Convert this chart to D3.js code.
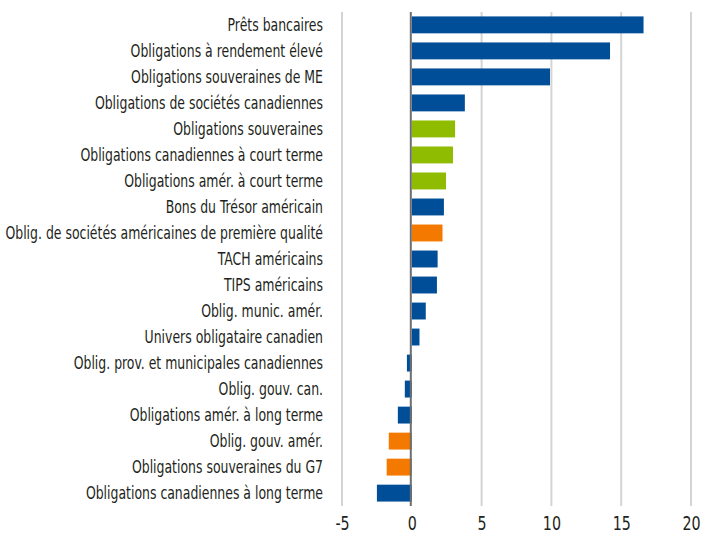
<!DOCTYPE html>
<html>
<head>
<meta charset="utf-8">
<script src="https://cdn.jsdelivr.net/npm/d3@7"></script>
<style>
  body { margin: 0; background: #fff; }
  svg text { font-family: "DejaVu Sans Condensed", "Liberation Sans Narrow", sans-serif; fill: #231f20; }
</style>
</head>
<body>
<div id="chart"></div>
<script>
// categories, top to bottom
const categories = [
  "Prêts bancaires",
  "Obligations à rendement élevé",
  "Obligations souveraines de ME",
  "Obligations de sociétés canadiennes",
  "Obligations souveraines",
  "Obligations canadiennes à court terme",
  "Obligations amér. à court terme",
  "Bons du Trésor américain",
  "Oblig. de sociétés américaines de première qualité",
  "TACH américains",
  "TIPS américains",
  "Oblig. munic. amér.",
  "Univers obligataire canadien",
  "Oblig. prov. et municipales canadiennes",
  "Oblig. gouv. can.",
  "Obligations amér. à long terme",
  "Oblig. gouv. amér.",
  "Obligations souveraines du G7",
  "Obligations canadiennes à long terme"
];
const values = [16.6, 14.2, 9.9, 3.8, 3.1, 2.95, 2.45, 2.3, 2.2, 1.85, 1.8, 1.0, 0.55, -0.35, -0.5, -1.0, -1.65, -1.8, -2.5];
// group of each bar: b = blue, g = green, o = orange
const groups = ["b", "b", "b", "b", "g", "g", "g", "b", "o", "b", "b", "b", "b", "b", "b", "b", "o", "o", "b"];
const xTicks = [-5, 0, 5, 10, 15, 20];

const colors = { b: "#004e98", g: "#8fbc00", o: "#f47900" };

const width = 715, height = 533;
const margin = { top: 12, right: 24, bottom: 27, left: 342 };

const svg = d3.select("#chart").append("svg")
  .attr("width", width)
  .attr("height", height);

const x = d3.scaleLinear()
  .domain([-5, 20])
  .range([margin.left, width - margin.right]);

const y = d3.scaleBand()
  .domain(categories)
  .range([margin.top, height - margin.bottom])
  .paddingInner(0.35)
  .paddingOuter(0.17);

// gridlines
svg.append("g")
  .selectAll("line")
  .data(xTicks.filter(d => d !== 0))
  .join("line")
  .attr("x1", d => x(d)).attr("x2", d => x(d))
  .attr("y1", margin.top).attr("y2", height - margin.bottom)
  .attr("stroke", "#d4d4d4")
  .attr("stroke-width", 2);

// bars
svg.append("g")
  .selectAll("rect")
  .data(values)
  .join("rect")
  .attr("x", d => x(Math.min(0, d)))
  .attr("y", (d, i) => y(categories[i]))
  .attr("width", d => Math.abs(x(d) - x(0)))
  .attr("height", y.bandwidth())
  .attr("fill", (d, i) => colors[groups[i]]);

// zero line
svg.append("line")
  .attr("x1", x(0) - 1).attr("x2", x(0) - 1)
  .attr("y1", margin.top).attr("y2", height - margin.bottom)
  .attr("stroke", "#6d6e71")
  .attr("stroke-width", 2);

// category labels, squeezed to mimic the condensed face of the original
const labels = svg.append("g");
const labelText = labels.selectAll("text")
  .data(categories)
  .join("text")
  .attr("x", 0)
  .attr("y", d => y(d) + y.bandwidth() / 2)
  .attr("dy", "0.36em")
  .attr("text-anchor", "end")
  .attr("font-size", 17.5)
  .text(d => d);
const longest = d3.max(labelText.nodes(), n => n.getComputedTextLength());
const squeeze = 318 / longest;
labels.attr("transform", `translate(323,0) scale(${squeeze},1)`);

// x axis
const xAxis = svg.append("g")
  .attr("transform", `translate(0,${height - margin.bottom})`)
  .call(d3.axisBottom(x).tickValues(xTicks).tickSize(0).tickFormat(d => String(d)));
xAxis.select(".domain").remove();
xAxis.selectAll("text")
  .attr("font-size", 20)
  .attr("font-family", null)
  .attr("y", 24)
  .attr("dy", null)
  .attr("transform", `scale(${squeeze},1)`);
</script>
</body>
</html>
